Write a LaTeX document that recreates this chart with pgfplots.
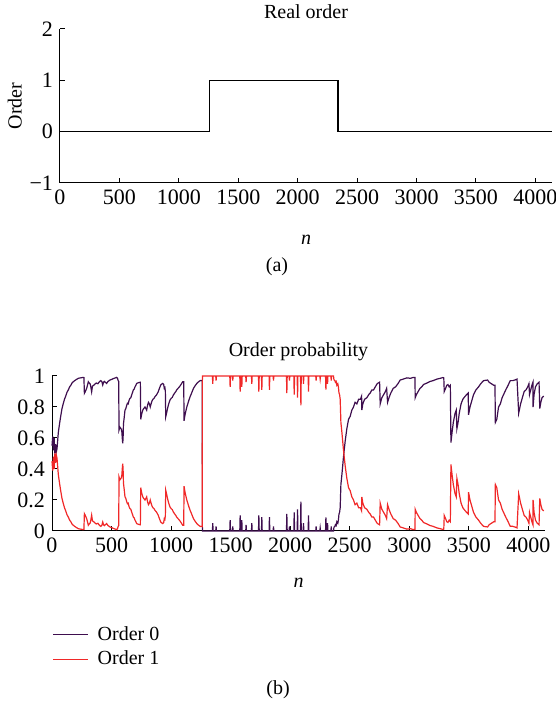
\documentclass[border=0pt]{standalone}
\usepackage{fontspec}
\setmainfont{Liberation Serif}
\usepackage{pgfplots}
\usepackage{pgfplotstable}
\pgfplotsset{compat=1.18}
\definecolor{ord0}{RGB}{62,14,78}
\definecolor{ord1}{RGB}{240,40,40}

\pgfplotstableread{
n y
0 0
1255 0
1255 1
2340 1
2340 0
4140 0
}\realorder

\pgfplotstableread{
n p0 p1
0 0.55 0.45
6 0.61 0.39
12 0.52 0.48
18 0.60 0.40
24 0.50 0.50
30 0.56 0.44
36 0.51 0.49
42 0.53 0.47
53 0.635 0.365
63 0.69 0.31
73 0.74 0.26
84 0.79 0.21
95 0.823 0.177
105 0.85 0.15
115 0.87 0.13
126 0.895 0.105
137 0.91 0.09
148 0.93 0.07
158 0.94 0.06
168 0.955 0.045
179 0.963 0.037
190 0.97 0.03
200 0.975 0.025
210 0.98 0.02
221 0.985 0.015
240 0.988 0.012
263 0.991 0.009
268 0.99 0.01
272 0.888 0.112
280 0.90 0.10
291 0.92 0.08
298 0.94 0.06
305 0.963 0.037
312 0.955 0.045
320 0.95 0.05
326 0.93 0.07
333 0.898 0.102
340 0.935 0.065
350 0.94 0.06
361 0.948 0.052
372 0.955 0.045
385 0.95 0.05
397 0.962 0.038
409 0.97 0.03
418 0.965 0.035
426 0.942 0.058
433 0.96 0.04
440 0.965 0.035
450 0.958 0.042
459 0.952 0.048
470 0.965 0.035
487 0.974 0.026
500 0.978 0.022
521 0.985 0.015
543 0.991 0.009
550 0.985 0.015
556 0.97 0.03
560 0.965 0.035
563 0.652 0.348
570 0.67 0.33
575 0.665 0.335
580 0.66 0.34
586 0.645 0.355
590 0.60 0.40
594 0.566 0.434
597 0.60 0.40
600 0.69 0.31
606 0.73 0.27
613 0.78 0.22
620 0.79 0.21
627 0.81 0.19
633 0.824 0.176
640 0.82 0.18
648 0.845 0.155
655 0.856 0.144
662 0.86 0.14
670 0.88 0.12
677 0.895 0.105
683 0.91 0.09
690 0.915 0.085
697 0.93 0.07
704 0.94 0.06
711 0.952 0.048
720 0.955 0.045
730 0.958 0.042
742 0.96 0.04
745 0.72 0.28
752 0.75 0.25
762 0.78 0.22
770 0.79 0.21
781 0.80 0.20
788 0.79 0.21
795 0.78 0.22
802 0.81 0.19
810 0.83 0.17
818 0.82 0.18
825 0.80 0.20
832 0.82 0.18
840 0.84 0.16
848 0.85 0.15
856 0.855 0.145
865 0.867 0.133
875 0.875 0.125
885 0.888 0.112
893 0.90 0.10
902 0.92 0.08
913 0.942 0.058
922 0.948 0.052
930 0.952 0.048
938 0.945 0.055
943 0.92 0.08
948 0.925 0.075
952 0.90 0.10
955 0.737 0.263
962 0.76 0.24
970 0.79 0.21
980 0.82 0.18
991 0.845 0.155
1000 0.855 0.145
1010 0.862 0.138
1019 0.877 0.123
1030 0.89 0.11
1040 0.90 0.10
1047 0.91 0.09
1058 0.92 0.08
1070 0.93 0.07
1083 0.945 0.055
1098 0.963 0.037
1106 0.963 0.037
1109 0.711 0.289
1115 0.74 0.26
1120 0.76 0.24
1126 0.78 0.22
1132 0.80 0.20
1140 0.82 0.18
1150 0.845 0.155
1160 0.867 0.133
1170 0.885 0.115
1180 0.905 0.095
1188 0.92 0.08
1200 0.935 0.065
1216 0.952 0.048
1230 0.962 0.038
1244 0.97 0.03
1262 0.972 0.028
1263 0 1
1347 0 1
1350 0.05 0.95
1353 0 1
1375 0 1
1378 0.03 0.97
1381 0 1
1493 0 1
1496 0.07 0.93
1499 0 1
1515 0 1
1518 0.03 0.97
1521 0 1
1577 0 1
1580 0.10 0.90
1583 0 1
1591 0 1
1594 0.07 0.93
1597 0 1
1627 0 1
1630 0.04 0.96
1633 0 1
1675 0 1
1678 0.05 0.95
1681 0 1
1734 0 1
1737 0.10 0.90
1740 0 1
1759 0 1
1762 0.09 0.91
1765 0 1
1823 0 1
1826 0.09 0.91
1829 0 1
1857 0 1
1860 0.03 0.97
1863 0 1
1969 0 1
1972 0.11 0.89
1975 0 1
1991 0 1
1994 0.03 0.97
1997 0 1
2031 0 1
2034 0.12 0.88
2037 0 1
2059 0 1
2062 0.14 0.86
2065 0 1
2087 0 1
2090 0.19 0.81
2093 0 1
2109 0 1
2112 0.05 0.95
2115 0 1
2151 0 1
2154 0.10 0.90
2157 0 1
2215 0 1
2218 0.03 0.97
2221 0 1
2249 0 1
2252 0.02 0.98
2255 0 1
2297 0 1
2300 0.087 0.913
2303 0 1
2311 0 1
2314 0.05 0.95
2317 0 1
2342 0 1
2345 0.03 0.97
2348 0 1
2364 0 1
2368 0.025 0.975
2375 0.03 0.97
2380 0.04 0.96
2386 0.035 0.965
2392 0.06 0.94
2400 0.05 0.95
2405 0.07 0.93
2410 0.11 0.89
2415 0.12 0.88
2420 0.15 0.85
2426 0.30 0.70
2434 0.36 0.64
2441 0.42 0.58
2448 0.48 0.52
2455 0.53 0.47
2462 0.58 0.42
2469 0.62 0.38
2476 0.66 0.34
2483 0.69 0.31
2490 0.72 0.28
2504 0.74 0.26
2518 0.78 0.22
2532 0.80 0.20
2545 0.83 0.17
2560 0.82 0.18
2575 0.85 0.15
2590 0.85 0.15
2600 0.87 0.13
2602 0.78 0.22
2610 0.82 0.18
2625 0.85 0.15
2644 0.86 0.14
2660 0.88 0.12
2672 0.89 0.11
2686 0.91 0.09
2700 0.91 0.09
2715 0.93 0.07
2730 0.95 0.05
2751 0.96 0.04
2756 0.82 0.18
2770 0.86 0.14
2785 0.88 0.12
2800 0.90 0.10
2810 0.92 0.08
2818 0.83 0.17
2830 0.86 0.14
2845 0.89 0.11
2865 0.92 0.08
2885 0.93 0.07
2905 0.95 0.05
2924 0.974 0.026
2950 0.98 0.02
2980 0.988 0.012
3010 0.985 0.015
3030 0.99 0.01
3048 0.99 0.01
3050 0.86 0.14
3060 0.88 0.12
3075 0.90 0.10
3090 0.92 0.08
3105 0.93 0.07
3120 0.945 0.055
3134 0.95 0.05
3150 0.955 0.045
3176 0.965 0.035
3200 0.97 0.03
3232 0.98 0.02
3260 0.985 0.015
3283 0.99 0.01
3290 0.988 0.012
3294 0.90 0.10
3305 0.92 0.08
3315 0.94 0.06
3325 0.945 0.055
3335 0.93 0.07
3345 0.94 0.06
3350 0.57 0.43
3360 0.64 0.36
3370 0.70 0.30
3385 0.76 0.24
3395 0.78 0.22
3400 0.66 0.34
3410 0.70 0.30
3420 0.76 0.24
3435 0.82 0.18
3450 0.85 0.15
3470 0.87 0.13
3495 0.89 0.11
3498 0.75 0.25
3510 0.80 0.20
3525 0.84 0.16
3540 0.88 0.12
3560 0.91 0.09
3582 0.93 0.07
3600 0.95 0.05
3624 0.97 0.03
3658 0.974 0.026
3670 0.96 0.04
3690 0.95 0.05
3710 0.94 0.06
3720 0.94 0.06
3723 0.70 0.30
3735 0.72 0.28
3750 0.80 0.20
3765 0.82 0.18
3780 0.86 0.14
3792 0.88 0.12
3810 0.91 0.09
3830 0.94 0.06
3848 0.97 0.03
3870 0.97 0.03
3890 0.975 0.025
3905 0.98 0.02
3919 0.76 0.24
3935 0.82 0.18
3950 0.86 0.14
3965 0.90 0.10
3980 0.91 0.09
3995 0.93 0.07
4005 0.95 0.05
4010 0.88 0.12
4020 0.91 0.09
4030 0.94 0.06
4039 0.96 0.04
4040 0.80 0.20
4048 0.88 0.12
4060 0.93 0.07
4075 0.95 0.05
4090 0.96 0.04
4096 0.79 0.21
4105 0.83 0.17
4115 0.86 0.14
4129 0.87 0.13
}\probdata

\begin{document}
\begin{tikzpicture}[x=1pt,y=1pt]
\path[use as bounding box] (0,0) rectangle (278,351);
\pgfplotsset{
  common/.style={
    scale only axis,
    anchor=south west,
    xmin=0, xmax=4140,
    axis x line=bottom, axis y line=left,
    axis line style={-, line width=0.5pt},
    tick align=inside,
    major tick length=2.5pt,
    tick style={line width=0.5pt, black},
    xtick={0,500,...,4000},
    /pgf/number format/assume math mode=true,
    /pgf/number format/1000 sep={},
    tick label style={font=\fontsize{11}{13}\selectfont},
    label style={font=\fontsize{10}{12}\selectfont},
    title style={font=\fontsize{10}{12}\selectfont},
    xlabel={\textit{n}},
    clip=false,
  }
}
\begin{axis}[common,
  at={(30pt,259.5pt)},
  width=246pt, height=77pt,
  ymin=-1, ymax=2,
  ytick={-1,0,1,2}, yticklabels={−1,0,1,2},
  title={Real order},
  title style={yshift=-4.5pt},
  xlabel style={yshift=-8pt},
  ylabel style={yshift=-3pt},
  ylabel={Order},
]
\addplot[black, line width=0.6pt] table[x=n, y=y] {\realorder};
\end{axis}
\node at (138.5pt,217.5pt) {\fontsize{10}{12}\selectfont (a)};

\begin{axis}[common,
  at={(26pt,85.5pt)},
  width=246.5pt, height=77.5pt,
  ymin=0, ymax=1,
  ytick={0,0.2,...,1},
  yticklabels={0,0.2,0.4,0.6,0.8,1},
  title={Order probability},
  title style={yshift=-2pt},
  xlabel style={yshift=-5.5pt},
  legend style={at={(-0.012,-0.56)}, anchor=north west, draw=none, fill=none,
    font=\fontsize{10}{12}\selectfont, row sep=0pt},
  legend cell align=left,
  legend image code/.code={\draw[#1] (0pt,0pt) -- (17.5pt,0pt); \path (20pt,0pt);},
]
\addplot[ord0, line width=0.6pt] table[x=n, y=p0] {\probdata};
\addlegendentry{Order 0}
\addplot[ord1, line width=0.6pt] table[x=n, y=p1] {\probdata};
\addlegendentry{Order 1}
\end{axis}
\node at (139pt,6pt) {\fontsize{10}{12}\selectfont (b)};
\end{tikzpicture}
\end{document}
